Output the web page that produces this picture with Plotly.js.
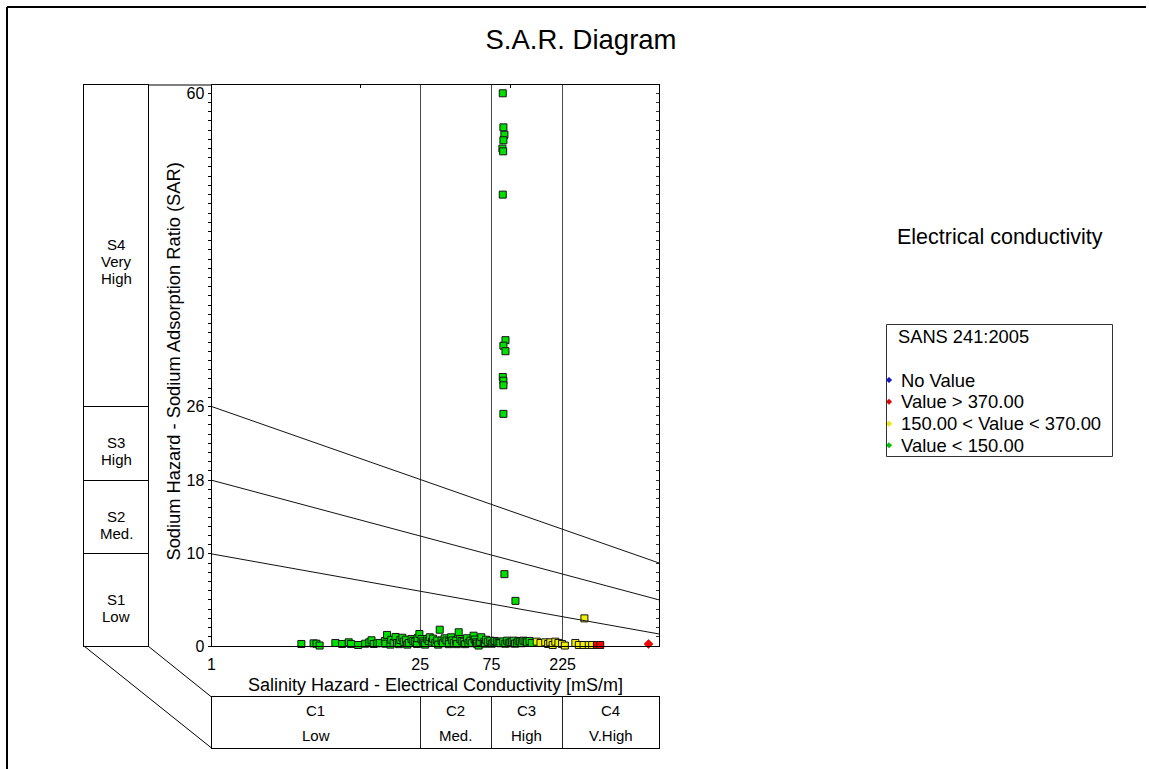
<!DOCTYPE html>
<html>
<head>
<meta charset="utf-8">
<script src="https://cdn.plot.ly/plotly-3.0.1.min.js"></script>
<style>
  html, body { margin: 0; padding: 0; background: #fff; }
  #chart { width: 1149px; height: 769px; }
</style>
</head>
<body>
<div id="chart"></div>
<script>
// S.A.R. diagram: sodium hazard (SAR) against salinity hazard (EC, mS/m)
const FONT = 'Arial, "Liberation Sans", sans-serif';

// Samples with EC < 150 mS/m
const greenEC = [
  4.0, 4.83, 5.05, 5.3, 6.76, 7.5, 8.3, 8.6, 9.6, 10.7, 11.4, 11.8, 12.2, 12.9, 13.4,
  14.5, 14.6, 15.0, 15.8, 16.0, 16.6, 17.1, 17.5, 18.0, 18.4, 19.0, 19.4, 20.1, 20.5,
  21.0, 21.9, 22.5, 23.2, 23.8, 24.0, 24.7, 25.5, 26.0, 26.4, 27.0, 27.9, 28.5, 29.0,
  30.0, 30.5, 31.6, 32.5, 33.0, 33.8, 34.8, 35.5, 36.5, 37.5, 38.9, 39.0, 40.3, 41.0,
  42.0, 43.5, 44.0, 45.3, 46.4, 47.5, 48.9, 50.0, 51.5, 52.7, 54.2, 55.5, 57.0, 58.0,
  59.1, 60.0, 61.6, 63.0, 64.2, 66.7, 68.0, 69.1, 71.0, 73.7, 75.5, 77.5, 79.0, 81.6,
  83.8, 86.0, 90.0, 93.0, 95.6, 98.0, 100.5, 103, 105.8, 108, 111.3, 114, 117, 120,
  123, 127, 130, 135, 140,
  89.4, 90.3, 91.7, 90.3, 88.9, 89.9, 89.4, 93.2, 90.3, 93.2, 89.4, 90.3, 90.3, 90.3,
  91.7, 108.7
];
const greenSAR = [
  0.22, 0.29, 0.25, 0.05, 0.33, 0.22, 0.4, 0.22, 0.11, 0.25, 0.4, 0.62, 0.22, 0.29, 0.33,
  0.54, 0.25, 1.2, 0.15, 0.68, 0.33, 0.98, 0.33, 0.2, 0.65, 0.9, 0.47, 0.68, 0.15,
  0.33, 0.76, 0.55, 0.47, 0.22, 0.85, 1.3, 0.76, 0.5, 0.29, 0.15, 0.76, 0.55, 0.95,
  0.47, 0.8, 0.33, 0.6, 0.15, 1.77, 0.58, 0.3, 0.84, 0.6, 0.47, 0.2, 0.95, 0.6,
  0.33, 0.58, 0.2, 1.49, 0.76, 0.55, 0.47, 0.2, 0.84, 0.33, 0.58, 0.3, 1.12, 0.7,
  0.4, 0.25, 0.05, 0.45, 0.95, 0.4, 0.25, 0.68, 0.45, 0.58, 0.25, 0.4, 0.55, 0.47,
  0.33, 0.3, 0.5, 0.25, 0.58, 0.3, 0.4, 0.45, 0.58, 0.25, 0.33, 0.55, 0.47, 0.3,
  0.58, 0.5, 0.4, 0.55, 0.33,
  60.0, 56.3, 55.5, 54.9, 54.0, 53.7, 49.0, 33.2, 32.6, 32.0, 29.2, 28.8, 28.3, 25.2,
  7.8, 4.9
];

// Samples with 150 < EC < 370 mS/m
const yellowEC  = [151, 160, 172, 180, 186, 193, 201, 211, 223, 233, 274, 289, 311, 337, 355, 315];
const yellowSAR = [0.47, 0.33, 0.4, 0.22, 0.4, 0.11, 0.47, 0.33, 0.22, 0.05, 0.33, 0.11, 0.11, 0.11, 0.11, 3.0];

// Samples with EC > 370 mS/m
const redEC  = [382, 402];
const redSAR = [0.11, 0.11];
const redPointEC  = [847];
const redPointSAR = [0.22];

// Hazard classes
const ecBounds = [1, 25, 75, 225, 1000];
const ecTickLabels = ['1', '25', '75', '225'];
const ecCodes = ['C1', 'C2', 'C3', 'C4'];
const ecNames = ['Low', 'Med.', 'High', 'V.High'];
const sarTicks = [0, 10, 18, 26, 60];
const sarBounds = [0, 10, 18, 26, 60];
const sarLabels = [['S1', 'Low'], ['S2', 'Med.'], ['S3', 'High'], ['S4', 'Very', 'High']];

// Sodium class boundary lines: SAR at EC = 1 and EC = 1000 mS/m
const boundaryEC = [1, 1000];
const boundarySAR = [[10, 1.3], [18, 5], [26, 9]];

const legendTitle = 'SANS 241:2005';
const legendLabels = ['No Value', 'Value > 370.00', '150.00 < Value < 370.00', 'Value < 150.00'];
const legendColors = ['#1414c8', '#e00000', '#e6e600', '#00c000'];

const SAR_MAX = 60.9;

// ---- page geometry (pixels -> paper fractions) ----
const W = 1149, H = 769;
const fx = px => px / W;
const fy = py => (H - py) / H;
const mainX = [fx(211.5), fx(659.3)];
const mainY = [fy(646), fy(85)];
const sPanelX = [fx(84), fx(148)];
const cPanelY = [fy(748), fy(697)];

// one tick per SAR unit, labelled only at the class limits
const sarUnitTicks = [];
for (let v = 0; v <= 60; v++) sarUnitTicks.push(v);
const sarUnitText = sarUnitTicks.map(v => (sarTicks.includes(v) ? String(v) : ''));

const squareMarker = (fill) => ({
  symbol: 'square', size: 7, color: fill, line: { color: '#141414', width: 1 }
});

const traces = [];
// boundary lines live on the overlay axes (same ranges) so the inner ticks get drawn
boundarySAR.forEach(s => traces.push({
  type: 'scatter', mode: 'lines', x: boundaryEC, y: s, xaxis: 'x2', yaxis: 'y2',
  line: { color: '#111', width: 1 }, hoverinfo: 'skip', showlegend: false
}));
traces.push({
  type: 'scatter', mode: 'markers', x: greenEC, y: greenSAR, xaxis: 'x', yaxis: 'y',
  marker: squareMarker('#00e000'), showlegend: false, cliponaxis: false
});
traces.push({
  type: 'scatter', mode: 'markers', x: yellowEC, y: yellowSAR, xaxis: 'x', yaxis: 'y',
  marker: squareMarker('#f0f000'), showlegend: false, cliponaxis: false
});
traces.push({
  type: 'scatter', mode: 'markers', x: redEC, y: redSAR, xaxis: 'x', yaxis: 'y',
  marker: squareMarker('#ff0000'), showlegend: false, cliponaxis: false
});
traces.push({
  type: 'scatter', mode: 'markers', x: redPointEC, y: redPointSAR, xaxis: 'x', yaxis: 'y',
  marker: { symbol: 'diamond', size: 7, color: '#ff0000', line: { color: '#800000', width: 0.5 } },
  showlegend: false, cliponaxis: false
});

const annotations = [];
const txt = (text, x, y, size, extra) => Object.assign({
  text, x, y, xref: 'paper', yref: 'paper', showarrow: false,
  xanchor: 'center', yanchor: 'middle', font: { family: FONT, size, color: '#000' }
}, extra || {});

annotations.push(txt('Electrical conductivity', fx(999.5), fy(236.5), 21.5));
annotations.push(txt('Salinity Hazard - Electrical Conductivity [mS/m]', fx(435), fy(685), 18));
annotations.push(txt('Sodium Hazard - Sodium Adsorption Ratio (SAR)', fx(173), fy(361.5), 18.3, { textangle: -90 }));

// Sodium class labels in the left panel
sarLabels.forEach((lines, i) => {
  const mid = (sarBounds[i] + sarBounds[i + 1]) / 2;
  const baseShift = lines.length > 2 ? -12 : -8;
  lines.forEach((line, j) => {
    annotations.push({
      text: line, x: 0.5, y: mid, xref: 'x3', yref: 'y3', showarrow: false,
      xanchor: 'center', yanchor: 'middle',
      yshift: baseShift - (j - (lines.length - 1) / 2) * 17,
      font: { family: FONT, size: 15, color: '#000' }
    });
  });
});

// Salinity class labels in the bottom panel
ecCodes.forEach((code, i) => {
  const mid = (Math.log10(ecBounds[i]) + Math.log10(ecBounds[i + 1])) / 2;
  [[code, 0.745], [ecNames[i], 0.255]].forEach(([t, yy]) => {
    annotations.push({
      text: t, x: mid, y: yy, xref: 'x4', yref: 'y4', showarrow: false,
      xanchor: 'center', yanchor: 'middle',
      font: { family: FONT, size: 15, color: '#000' }
    });
  });
});

// Legend block
annotations.push(txt(legendTitle, fx(896), fy(336.5), 18.3, { xanchor: 'left' }));
const legendRows = [380, 401.7, 423.7, 445.3];
const shapes = [];
legendLabels.forEach((lab, i) => {
  annotations.push(txt(lab, fx(898.5), fy(legendRows[i]), 18.4, { xanchor: 'left' }));
  const cx = fx(889), cy = fy(legendRows[i]), dx = 2.8 / W, dy = 2.8 / H;
  shapes.push({
    type: 'path', xref: 'paper', yref: 'paper',
    path: `M ${cx - dx} ${cy} L ${cx} ${cy + dy} L ${cx + dx} ${cy} L ${cx} ${cy - dy} Z`,
    fillcolor: legendColors[i], line: { color: legendColors[i], width: 0.5 }
  });
});
shapes.push({
  type: 'rect', xref: 'paper', yref: 'paper',
  x0: fx(886.5), x1: fx(1112.5), y0: fy(456.5), y1: fy(324.5),
  line: { color: '#333', width: 1 }, fillcolor: 'rgba(0,0,0,0)'
});

// Frame connectors and outer border
const lineShape = (x0, y0, x1, y1, w) => ({
  type: 'line', xref: 'paper', yref: 'paper', x0, y0, x1, y1,
  line: { color: '#000', width: w || 1 }
});
shapes.push(lineShape(sPanelX[1], mainY[1], mainX[0], mainY[1]));
shapes.push(lineShape(sPanelX[0], mainY[0], mainX[0], cPanelY[0]));
shapes.push(lineShape(sPanelX[1], mainY[0], mainX[0], cPanelY[1]));
shapes.push(lineShape(fx(7), fy(7), fx(1146), fy(7), 2));
shapes.push(lineShape(fx(7), fy(7), fx(7), 0, 2));

const tickFont = { family: FONT, size: 16, color: '#000' };

const layout = {
  width: W, height: H,
  margin: { l: 0, r: 0, t: 0, b: 0, pad: 0 },
  paper_bgcolor: '#fff', plot_bgcolor: 'rgba(0,0,0,0)',
  showlegend: false,
  title: {
    text: 'S.A.R. Diagram', x: fx(581), y: fy(39), xref: 'paper', yref: 'paper',
    xanchor: 'center', yanchor: 'middle', font: { family: FONT, size: 27.5, color: '#000' }
  },
  xaxis: {
    type: 'log', range: [0, 3], domain: mainX, anchor: 'y',
    tickmode: 'array', tickvals: ecBounds.slice(0, 4), ticktext: ecTickLabels,
    ticks: '', tickfont: tickFont, ticklabelstandoff: 4,
    showgrid: true, gridcolor: '#4a4a4a', gridwidth: 1,
    showline: true, linecolor: '#000', linewidth: 1, mirror: true, zeroline: false
  },
  xaxis2: {
    type: 'log', range: [0, 3], overlaying: 'x', anchor: 'y2', side: 'top',
    tickmode: 'array', tickvals: [10, 100], ticks: 'inside', ticklen: 3, tickcolor: '#000',
    showticklabels: false, showgrid: false, showline: false, zeroline: false
  },
  yaxis: {
    range: [0, SAR_MAX], domain: mainY, anchor: 'x',
    tickmode: 'array', tickvals: sarUnitTicks, ticktext: sarUnitText,
    ticks: 'outside', ticklen: 3, tickcolor: '#000', tickwidth: 1,
    tickfont: tickFont,
    showgrid: false, zeroline: false,
    showline: true, linecolor: '#000', linewidth: 1, mirror: true
  },
  yaxis2: {
    range: [0, SAR_MAX], overlaying: 'y', anchor: 'x2', side: 'right',
    tickmode: 'array', tickvals: sarUnitTicks, ticks: 'inside', ticklen: 3, tickcolor: '#333',
    showticklabels: false, showgrid: false, showline: false, zeroline: false
  },
  xaxis3: {
    domain: sPanelX, anchor: 'y3', range: [0, 1],
    showline: true, mirror: true, linecolor: '#000', ticks: '',
    showticklabels: false, showgrid: false, zeroline: false
  },
  yaxis3: {
    domain: mainY, anchor: 'x3', range: [0, SAR_MAX],
    tickmode: 'array', tickvals: sarBounds.slice(1, 4), ticks: '', showticklabels: false,
    showgrid: true, gridcolor: '#000', gridwidth: 1,
    showline: true, mirror: true, linecolor: '#000', zeroline: false
  },
  xaxis4: {
    type: 'log', domain: mainX, anchor: 'y4', range: [0, 3],
    tickmode: 'array', tickvals: ecBounds.slice(1, 4), ticks: '', showticklabels: false,
    showgrid: true, gridcolor: '#222', gridwidth: 1,
    showline: true, mirror: true, linecolor: '#000', zeroline: false
  },
  yaxis4: {
    domain: cPanelY, anchor: 'x4', range: [0, 1],
    ticks: '', showticklabels: false, showgrid: false, zeroline: false,
    showline: true, mirror: true, linecolor: '#000'
  },
  annotations, shapes
};

Plotly.newPlot('chart', traces, layout, { displayModeBar: false, staticPlot: true });
</script>
</body>
</html>
